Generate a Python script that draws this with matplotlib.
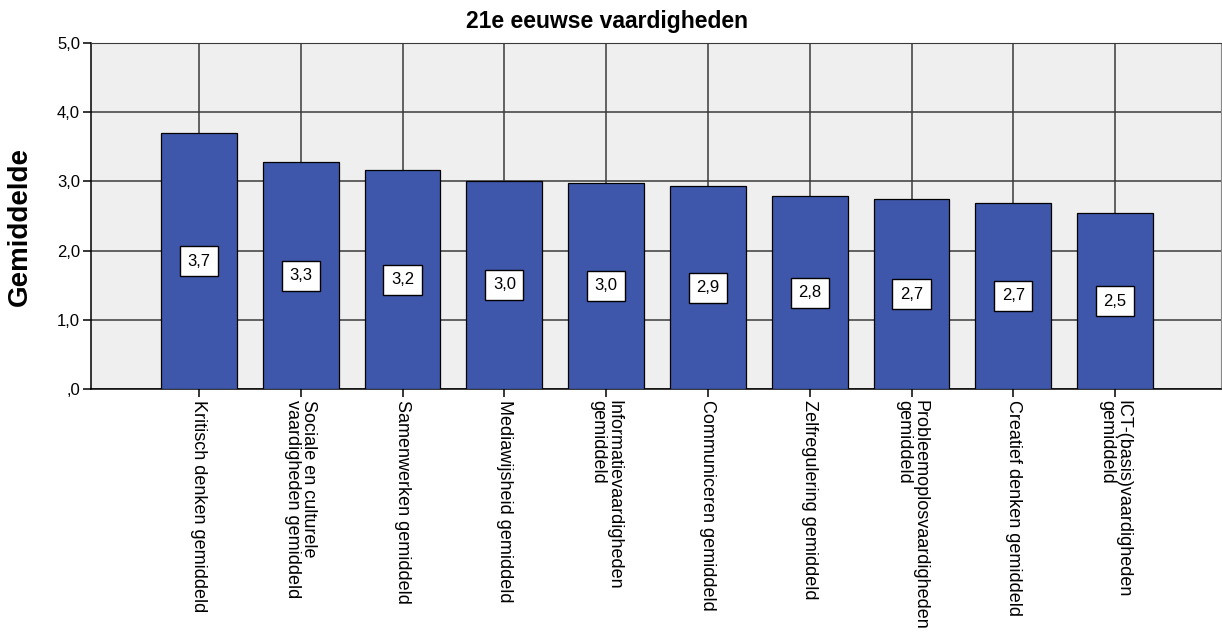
"""
plot.py: SPSS-style bar chart of mean scores on 21st century skills.
"""

import matplotlib
matplotlib.use("Agg")
import matplotlib.pyplot as plt
from matplotlib.ticker import FuncFormatter

plt.rcParams['font.family'] = ['Liberation Sans', 'DejaVu Sans']

# Data
categories = [
    "Kritisch denken gemiddeld",
    "Sociale en culturele\nvaardigheden gemiddeld",
    "Samenwerken gemiddeld",
    "Mediawijsheid gemiddeld",
    "Informatievaardigheden\ngemiddeld",
    "Communiceren gemiddeld",
    "Zelfregulering gemiddeld",
    "Probleemoplosvaardigheden\ngemiddeld",
    "Creatief denken gemiddeld",
    "ICT-(basis)vaardigheden\ngemiddeld",
]
means = [3.70, 3.28, 3.16, 3.01, 2.98, 2.93, 2.79, 2.74, 2.69, 2.54]
y_ticks = [0, 1, 2, 3, 4, 5]

bar_color = "#3E57AA"
bg_color = "#EFEFEF"
grid_color = "#3A3A3A"


def comma_fmt(v, pos):
    # SPSS writes ",0" for zero and uses a decimal comma
    s = f"{v:.1f}".replace(".", ",")
    return s[1:] if s.startswith("0") else s


fig = plt.figure(figsize=(12.22, 6.41), dpi=100)
ax = fig.add_axes([0.0745, 0.393, 0.9247, 0.540])
ax.set_facecolor(bg_color)

x = list(range(len(categories)))

# Grid behind the bars
ax.set_axisbelow(True)
ax.grid(axis="both", color=grid_color, linewidth=1.1)

bars = ax.bar(x, means, width=0.745, color=bar_color, edgecolor="black",
              linewidth=0.9, zorder=3)

# Value labels in white boxes at half bar height
for xi, m in zip(x, means):
    ax.text(xi, m / 2, f"{m:.1f}".replace(".", ","), ha="center", va="center",
            fontsize=12, zorder=4,
            bbox=dict(boxstyle="square,pad=0.45", facecolor="white",
                      edgecolor="black", linewidth=1.0))

ax.set_xlim(-1.06, len(categories) - 1 + 1.04)
ax.set_ylim(0, 5)
ax.set_yticks(y_ticks)
ax.yaxis.set_major_formatter(FuncFormatter(comma_fmt))
ax.set_xticks(x)
ax.set_xticklabels(categories, rotation=270, ha="center", va="top",
                   multialignment="left", fontsize=13, linespacing=0.95)

ax.tick_params(axis="y", length=6, width=1.1, labelsize=12, pad=2)
ax.tick_params(axis="x", length=6, width=1.1, pad=2)

for side in ["left", "bottom"]:
    ax.spines[side].set_color("black")
    ax.spines[side].set_linewidth(1.1)
ax.spines["top"].set_color(grid_color)
ax.spines["right"].set_color("#888888")

ax.set_ylabel("Gemiddelde", fontsize=20, fontweight="bold")
ax.yaxis.set_label_coords(-0.0513, 0.47)

fig.text(0.497, 0.966, "21e eeuwse vaardigheden", ha="center", va="center",
         fontsize=16.5, fontweight="bold")

fig.savefig("out.png", dpi=100, facecolor="white")
